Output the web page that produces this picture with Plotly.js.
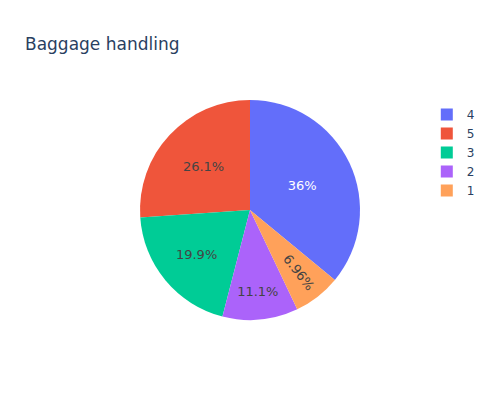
<!DOCTYPE html>
<html>
<head>
<meta charset="utf-8">
<script src="https://cdn.plot.ly/plotly-3.0.1.min.js"></script>
<style>html,body{margin:0;padding:0;}</style>
</head>
<body>
<div id="chart" style="width:500px;height:400px;"></div>
<script>
var ratingLabels = ["4", "5", "3", "2", "1"];
var ratingShares = [36.0, 26.1, 19.9, 11.1, 6.96];
var sliceColors = ["#636efa", "#EF553B", "#00cc96", "#ab63fa", "#FFA15A"];

var data = [{
  type: "pie",
  labels: ratingLabels,
  values: ratingShares,
  marker: {colors: sliceColors},
  textinfo: "percent",
  textfont: {size: 13},
  hoverinfo: "label+percent"
}];

var layout = {
  width: 500,
  height: 400,
  title: {text: "Baggage handling", x: 0.05, font: {size: 17, color: "#2a3f5f"}},
  font: {family: "'DejaVu Sans', verdana, arial, sans-serif", color: "#2a3f5f", size: 12},
  paper_bgcolor: "#ffffff",
  plot_bgcolor: "#ffffff",
  legend: {font: {color: "#2a3f5f"}}
};

Plotly.newPlot("chart", data, layout, {displayModeBar: false});
</script>
</body>
</html>
